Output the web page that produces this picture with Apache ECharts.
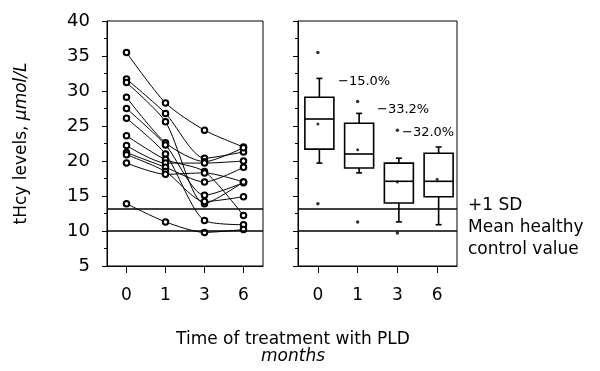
<!DOCTYPE html>
<html>
<head>
<meta charset="utf-8">
<script src="https://cdn.jsdelivr.net/npm/echarts@6/dist/echarts.min.js"></script>
<style>
  html, body { margin: 0; background: #fff; }
  #chart { width: 600px; height: 371px; }
</style>
</head>
<body>
<div id="chart"></div>
<script>
// time points (months)
const months = ['0', '1', '3', '6'];

// individual patients: index i = same patient in every array
const month0 = [35.5, 31.7, 31.2, 29.1, 27.5, 26.1, 23.6, 22.2, 21.2, 20.9, 19.7, 13.9];
const month1 = [28.3, 26.8, 25.6, 22.6, 22.3, 21.0, 20.2, 19.7, 19.1, 18.5, 18.1, 11.3];
const month3 = [24.4, 20.4, 13.9, 19.9, 15.1, 11.5, 18.5, 19.7, 17.0, 14.2, 18.3, 9.8];
const month6 = [22.0, 21.3, 17.0, 21.9, 16.9, 10.9, 12.2, 20.0, 19.1, 14.9, 17.0, 10.2];

// box plot summary per time point
const boxMin = [19.7, 18.3, 11.3, 10.9];
const boxQ1 = [21.7, 19.0, 14.0, 14.9];
const boxMedian = [26.0, 21.0, 17.1, 17.1];
const boxQ3 = [29.1, 25.4, 19.7, 21.1];
const boxMax = [31.8, 26.8, 20.4, 22.0];
const boxMean = [25.3, 21.6, 17.0, 17.4];
const outlierMonth = ['0', '0', '1', '1', '3', '3'];
const outlierValue = [35.5, 13.9, 28.5, 11.3, 24.4, 9.7];

// percent change labels
const pctLabels = ['\u221215.0%', '\u221233.2%', '\u221232.0%'];

// healthy control reference lines
const sdLine = 13.2;
const meanHealthy = 10;

const FONT = 'DejaVu Sans';

var chartDom = document.getElementById('chart');
var myChart = echarts.init(chartDom, null, { renderer: 'canvas' });

// one line per patient
var patientSeries = month0.map(function (v, i) {
    return {
        type: 'line',
        xAxisIndex: 0,
        yAxisIndex: 0,
        data: [month0[i], month1[i], month3[i], month6[i]],
        smooth: 0.25,
        symbol: 'emptyCircle',
        symbolSize: 5.5,
        itemStyle: { color: '#000', borderWidth: 1 },
        lineStyle: { color: '#000', width: 1 },
        z: 3
    };
});

function refLines() {
    return {
        silent: true,
        symbol: 'none',
        label: { show: false },
        lineStyle: { color: '#000', type: 'solid', width: 1.5 },
        data: [{ yAxis: sdLine }, { yAxis: meanHealthy }]
    };
}
patientSeries[0].markLine = refLines();

function renderBox(params, api) {
    var c = api.value(0);
    var pt = function (v) { return api.coord([c, v]); };
    var x = pt(api.value(3))[0] + 1.5;
    var yMin = pt(api.value(1))[1];
    var yQ1 = pt(api.value(2))[1];
    var yMed = pt(api.value(3))[1];
    var yQ3 = pt(api.value(4))[1];
    var yMax = pt(api.value(5))[1];
    var hw = 14.5, cap = 3;
    var st = { stroke: '#000', lineWidth: 1.6, fill: null };
    return {
        type: 'group',
        children: [
            { type: 'line', shape: { x1: x, y1: yQ3, x2: x, y2: yMax }, style: st },
            { type: 'line', shape: { x1: x, y1: yQ1, x2: x, y2: yMin }, style: st },
            { type: 'line', shape: { x1: x - cap, y1: yMax, x2: x + cap, y2: yMax }, style: st },
            { type: 'line', shape: { x1: x - cap, y1: yMin, x2: x + cap, y2: yMin }, style: st },
            { type: 'rect', shape: { x: x - hw, y: yQ3, width: hw * 2, height: yQ1 - yQ3 },
              style: { stroke: '#000', lineWidth: 1.6, fill: '#fff' } },
            { type: 'line', shape: { x1: x - hw, y1: yMed, x2: x + hw, y2: yMed }, style: st }
        ]
    };
}

var axisX = function (gi) {
    return {
        type: 'category',
        gridIndex: gi,
        data: months,
        boundaryGap: true,
        axisLine: { show: true, lineStyle: { color: '#000', width: 1 } },
        axisTick: { show: true, alignWithLabel: true, length: 7, lineStyle: { color: '#000' } },
        axisLabel: { color: '#000', fontSize: 17, fontFamily: FONT, margin: 21 },
        splitLine: { show: false }
    };
};
var axisY = function (gi, labels) {
    return {
        type: 'value',
        gridIndex: gi,
        min: 5,
        max: 40,
        interval: 5,
        axisLine: { show: true, lineStyle: { color: '#000', width: 1 } },
        axisTick: { show: true, length: 5, lineStyle: { color: '#000' } },
        minorTick: { show: true, splitNumber: 2, length: 3, lineStyle: { color: '#000' } },
        axisLabel: { show: labels, color: '#000', fontSize: 18, fontFamily: FONT, margin: 17 },
        splitLine: { show: false },
        name: labels ? 'tHcy levels, {i|\u03bcmol/L}' : '',
        nameLocation: 'middle',
        nameGap: 77,
        nameTextStyle: {
            color: '#000', fontSize: 17, fontFamily: FONT,
            rich: { i: { fontStyle: 'italic', fontSize: 17, fontFamily: FONT, color: '#000' } }
        }
    };
};

var textStyle = function (txt, x, y, size, extra) {
    return Object.assign({
        type: 'text',
        style: { text: txt, x: x, y: y, fill: '#000', fontSize: size, fontFamily: FONT,
                 verticalAlign: 'middle', align: 'left' }
    }, extra || {});
};

var option = {
    animation: false,
    backgroundColor: '#fff',
    grid: [
        { left: 107, top: 21, width: 156, height: 245, show: true, borderColor: '#000', borderWidth: 1 },
        { left: 298, top: 21, width: 159, height: 245, show: true, borderColor: '#000', borderWidth: 1 }
    ],
    xAxis: [axisX(0), axisX(1)],
    yAxis: [axisY(0, true), axisY(1, false)],
    graphic: [
        textStyle(pctLabels[0], 338, 82, 13),
        textStyle(pctLabels[1], 377, 110, 13),
        textStyle(pctLabels[2], 402, 133, 13),
        textStyle('+1 SD', 468, 206, 17),
        textStyle('Mean healthy', 468, 228, 17),
        textStyle('control value', 468, 250, 17),
        { type: 'text', style: { text: 'Time of treatment with PLD', x: 293, y: 340, fill: '#000',
            fontSize: 17, fontFamily: FONT, align: 'center', verticalAlign: 'middle' } },
        { type: 'text', style: { text: 'months', x: 293, y: 357, fill: '#000',
            fontSize: 17, fontFamily: FONT, fontStyle: 'italic', align: 'center', verticalAlign: 'middle' } }
    ],
    series: patientSeries.concat([
        {
            type: 'custom',
            xAxisIndex: 1,
            yAxisIndex: 1,
            renderItem: renderBox,
            data: months.map(function (m, i) {
                return [i, boxMin[i], boxQ1[i], boxMedian[i], boxQ3[i], boxMax[i]];
            }),
            markLine: refLines(),
            z: 2
        },
        {
            type: 'scatter',
            xAxisIndex: 1,
            yAxisIndex: 1,
            symbol: 'circle',
            symbolSize: 3.5,
            itemStyle: { color: '#000' },
            data: outlierMonth.map(function (m, i) { return [m, outlierValue[i]]; }),
            z: 4
        },
        {
            type: 'scatter',
            xAxisIndex: 1,
            yAxisIndex: 1,
            symbol: 'circle',
            symbolSize: 3,
            itemStyle: { color: '#000' },
            data: months.map(function (m, i) { return [m, boxMean[i]]; }),
            z: 4
        }
    ])
};

option && myChart.setOption(option);
</script>
</body>
</html>
